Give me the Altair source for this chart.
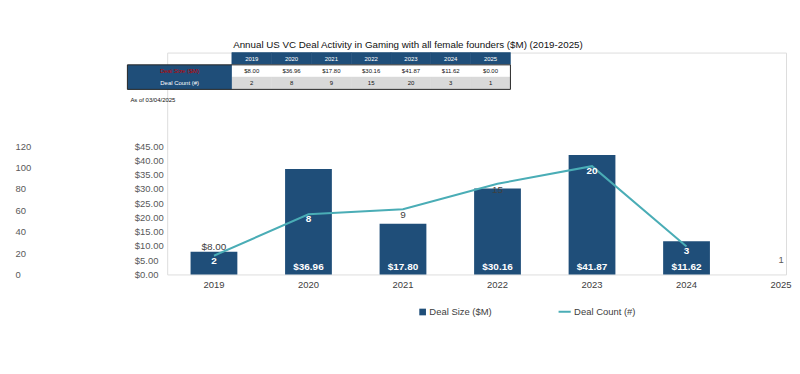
import altair as alt
import pandas as pd

# ---------------- data ----------------
years = ["2019", "2020", "2021", "2022", "2023", "2024", "2025"]
deal_size = [8.00, 36.96, 17.80, 30.16, 41.87, 11.62, 0.00]
deal_count = [2, 8, 9, 15, 20, 3, 1]
dollar_ticks = [0, 5, 10, 15, 20, 25, 30, 35, 40, 45]
count_ticks = [0, 20, 40, 60, 80, 100, 120]
row_labels = ["Deal Size ($M)", "Deal Count (#)"]
size_series = ["Deal Size ($M)"]
count_series = ["Deal Count (#)"]
title_text = "Annual US VC Deal Activity in Gaming with all female founders ($M) (2019-2025)"
note_text = "As of 03/04/2025"

BLUE = "#1f4e79"
TEAL = "#4aadb6"
FONT = "Liberation Sans"

df = pd.DataFrame({"year": years, "size": deal_size, "count": deal_count,
                   "col": list(range(len(years)))})
rows_df = pd.DataFrame({"label": row_labels, "row": [1, 2]})
one_df = pd.DataFrame({"k": [0]})
note_df = pd.DataFrame({"note": [note_text]})

W, H = 622, 223

# ---------------- table ----------------
tx_scale = alt.Scale(domain=[-0.5, 6.5], range=[65, 345], nice=False, zero=False)
ty_scale = alt.Scale(domain=[-0.5, 2.5], range=[0, 37], nice=False, zero=False)

cells = alt.Chart(df).transform_calculate(x0="datum.col - 0.5", x1="datum.col + 0.5")


def cell_layer(row, fill):
    return cells.mark_rect(fill=fill, stroke=fill, strokeWidth=0.6).encode(
        x=alt.X("x0:Q", scale=tx_scale, axis=None),
        x2="x1:Q",
        y=alt.YDatum(row - 0.5, scale=ty_scale, axis=None),
        y2=alt.Y2Datum(row + 0.5),
    )


hdr_bg = cell_layer(0, BLUE)
r1_bg = cell_layer(1, "#ffffff")
r2_bg = cell_layer(2, "#d9d9d9")

label_block = alt.Chart(one_df).mark_rect(fill=BLUE).encode(
    x=alt.XDatum(-3.125, scale=tx_scale, axis=None), x2=alt.X2Datum(-0.5),
    y=alt.YDatum(0.5, scale=ty_scale, axis=None), y2=alt.Y2Datum(2.5))
frame = alt.Chart(one_df).mark_rect(fill=None, stroke="#262626", strokeWidth=1).encode(
    x=alt.XDatum(-3.125, scale=tx_scale, axis=None), x2=alt.X2Datum(6.5),
    y=alt.YDatum(0.5, scale=ty_scale, axis=None), y2=alt.Y2Datum(2.5))

tcfg = dict(fontSize=6, font=FONT, baseline="middle", align="center")
hdr_txt = alt.Chart(df).mark_text(color="white", **tcfg).encode(
    x=alt.X("col:Q", scale=tx_scale, axis=None),
    y=alt.YDatum(0, scale=ty_scale, axis=None), text="year:N")
r1_txt = alt.Chart(df).mark_text(color="#111111", **tcfg).encode(
    x=alt.X("col:Q", scale=tx_scale, axis=None),
    y=alt.YDatum(1, scale=ty_scale, axis=None),
    text=alt.Text("size:Q", format="$,.2f"))
r2_txt = alt.Chart(df).mark_text(color="#111111", **tcfg).encode(
    x=alt.X("col:Q", scale=tx_scale, axis=None),
    y=alt.YDatum(2, scale=ty_scale, axis=None),
    text=alt.Text("count:Q", format="d"))
row_txt = alt.Chart(rows_df).mark_text(**tcfg).encode(
    x=alt.XDatum(-1.8125, scale=tx_scale, axis=None),
    y=alt.Y("row:Q", scale=ty_scale, axis=None),
    text="label:N",
    color=alt.condition("datum.row == 1", alt.value("#c00000"), alt.value("white")))
note_txt = alt.Chart(note_df).mark_text(fontSize=6, font=FONT, baseline="middle",
                                        align="left", color="#111111").encode(
    x=alt.XDatum(-3.05, scale=tx_scale, axis=None),
    y=alt.YDatum(3.35, scale=ty_scale, axis=None),
    text="note:N")

table_layer = alt.layer(hdr_bg, r1_bg, r2_bg, label_block, frame,
                        hdr_txt, r1_txt, r2_txt, row_txt, note_txt)

# ---------------- main chart ----------------
x_scale = alt.Scale(type="band", range=[23.5, 640.5], paddingInner=0.505, paddingOuter=0)
x_axis = alt.Axis(title=None, labelAngle=0, ticks=False, domain=False, grid=False,
                  labelPadding=5, labelFontSize=9.5, labelColor="#404040", labelFont=FONT)
x_enc = alt.X("year:O", scale=x_scale, axis=x_axis, sort=years)

d_scale = alt.Scale(domain=[0, 45], range=[H, 94], nice=False, zero=False)
d_axis = alt.Axis(orient="left", values=dollar_ticks, format="$,.2f", title=None,
                  ticks=False, tickSize=0, domain=False, grid=False, labelAlign="left",
                  labelPadding=33, labelFontSize=9.5, labelColor="#595959", labelFont=FONT)

leg_common = dict(orient="none", direction="horizontal", title=None,
                  labelFontSize=9.5, labelColor="#404040", labelFont=FONT, labelOffset=2)
bar_legend = alt.Legend(legendX=252, legendY=256, symbolType="square", symbolSize=45,
                        symbolStrokeWidth=0, **leg_common)
line_legend = alt.Legend(legendX=392, legendY=253, symbolType="stroke", symbolSize=150,
                         symbolStrokeWidth=2, **leg_common)

base = alt.Chart(df)

bars = base.transform_filter("datum.size > 0").transform_calculate(
    series="'Deal Size ($M)'").mark_bar().encode(
    x=x_enc,
    y=alt.Y("size:Q", scale=d_scale, axis=d_axis),
    color=alt.Color("series:N", scale=alt.Scale(domain=size_series, range=[BLUE]),
                    legend=bar_legend))

bar_in = base.transform_filter("datum.size >= 10").mark_text(
    color="white", fontWeight="bold", fontSize=10, font=FONT, baseline="middle", dy=-7).encode(
    x=x_enc, y=alt.YDatum(0, scale=d_scale, axis=d_axis),
    text=alt.Text("size:Q", format="$,.2f"))

bar_above = base.transform_filter("datum.size > 0 && datum.size < 10").mark_text(
    color="#404040", fontSize=10, font=FONT, baseline="middle", dy=-5).encode(
    x=x_enc, y=alt.Y("size:Q", scale=d_scale, axis=d_axis),
    text=alt.Text("size:Q", format="$,.2f"))

bar_layer = alt.layer(bars, bar_in, bar_above)

c_scale = alt.Scale(domain=[0, 120], range=[H, 94], nice=False)
c_axis = alt.Axis(orient="left", offset=120, values=count_ticks, format="d", title=None,
                  ticks=False, tickSize=0, domain=False, grid=False, labelAlign="left",
                  labelPadding=33, labelFontSize=9.5, labelColor="#595959", labelFont=FONT)
count_axis_layer = base.mark_point(opacity=0).encode(
    x=x_enc, y=alt.Y("count:Q", scale=c_scale, axis=c_axis))

l_scale = alt.Scale(type="sqrt", domain=[0.6, 26.6], range=[H, 94], nice=False, zero=False)
ly = alt.Y("count:Q", scale=l_scale, axis=None)

line = base.transform_filter("datum.size > 0").transform_calculate(
    series="'Deal Count (#)'").mark_line(strokeWidth=2).encode(
    x=x_enc, y=ly,
    color=alt.Color("series:N", scale=alt.Scale(domain=count_series, range=[TEAL]),
                    legend=line_legend))

lbl_white = base.transform_filter(
    alt.FieldOneOfPredicate(field="year", oneOf=["2019", "2020", "2023", "2024"])).mark_text(
    color="white", fontWeight="bold", fontSize=10, font=FONT, baseline="middle", dy=5).encode(
    x=x_enc, y=ly, text=alt.Text("count:Q", format="d"))
lbl_dark = base.transform_filter(
    alt.FieldOneOfPredicate(field="year", oneOf=["2021", "2022"])).mark_text(
    color="#404040", fontSize=10, font=FONT, baseline="middle", dy=6).encode(
    x=x_enc, y=ly, text=alt.Text("count:Q", format="d"))
lbl_end = base.transform_filter("datum.size == 0").mark_text(
    color="#595959", fontSize=9.5, font=FONT, baseline="middle", dy=-8).encode(
    x=x_enc, y=ly, text=alt.Text("count:Q", format="d"))

line_layer = alt.layer(line, lbl_white, lbl_dark, lbl_end)

main = alt.layer(bar_layer, count_axis_layer, line_layer).resolve_scale(
    y="independent", color="independent")

chart = alt.layer(table_layer, main).resolve_scale(
    x="independent", y="independent"
).properties(
    width=W, height=H,
    title=alt.TitleParams(title_text, anchor="middle", fontSize=9.8, fontWeight="normal",
                          font=FONT, color="#111111", offset=2, dx=-69),
    padding={"left": 7, "top": 31, "right": 0, "bottom": 5},
).configure_view(stroke=None).configure(font=FONT)

chart.save("out.html", embed_options={"renderer": "svg", "actions": False})
